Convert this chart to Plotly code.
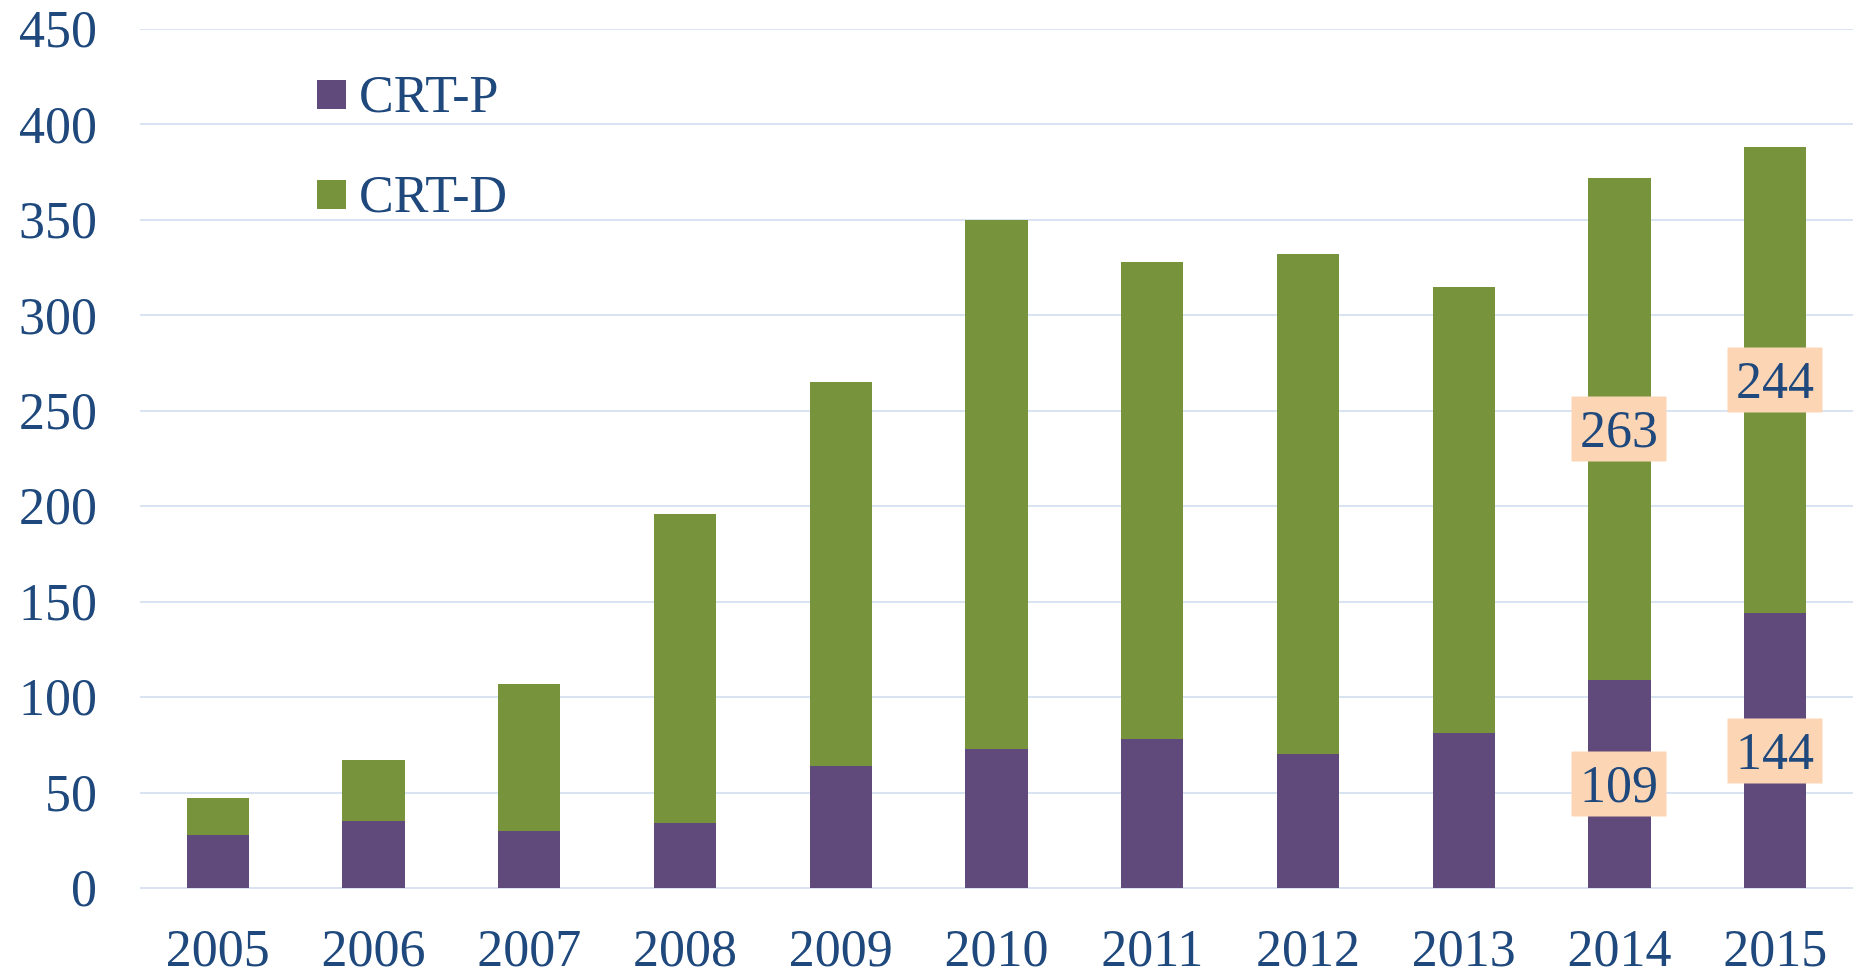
import plotly.graph_objects as go

years = ["2005", "2006", "2007", "2008", "2009", "2010", "2011", "2012", "2013", "2014", "2015"]
crt_p = [28, 35, 30, 34, 64, 73, 78, 70, 81, 109, 144]
crt_d = [19, 32, 77, 162, 201, 277, 250, 262, 234, 263, 244]
labeled_years = ["2014", "2015"]
series_names = ["CRT-P", "CRT-D"]
y_ticks = [0, 50, 100, 150, 200, 250, 300, 350, 400, 450]

C_P = "#604A7B"
C_D = "#77933C"
TXT = "#1F497D"
GRID = "#D9E3F1"
LBL_BG = "#FCD5B5"
FONT = "Liberation Serif"
FS = 52

# page body has an 8px margin: compensate so the plot lands where the reference has it
OFF = 8
W, H = 1863 - OFF, 971 - OFF
L, R, T, B = 140 - OFF, 10, 29 - OFF, 83

fig = go.Figure()
fig.add_trace(go.Bar(x=years, y=crt_p, name=series_names[0], marker=dict(color=C_P, line=dict(width=0)), showlegend=False))
fig.add_trace(go.Bar(x=years, y=crt_d, name=series_names[1], marker=dict(color=C_D, line=dict(width=0)), showlegend=False))

annotations = []
for i, (yr, p, d) in enumerate(zip(years, crt_p, crt_d)):
    if yr in labeled_years:
        for val, ymid in ((p, p / 2), (d, p + d / 2)):
            annotations.append(dict(
                x=i, y=ymid, xref="x", yref="y", text=str(val), showarrow=False,
                font=dict(family=FONT, size=FS, color=TXT), bgcolor=LBL_BG,
                width=94, height=64, align="center", valign="middle", borderpad=0,
            ))

# custom legend (page-pixel layout converted to paper coords)
pw, ph = W - L - R, H - T - B
def px(x):
    return (x - OFF - L) / pw
def py(y):
    return (H - B - (y - OFF)) / ph

shapes = [dict(type="line", xref="paper", yref="y", x0=0, x1=1, y0=y_ticks[-1], y1=y_ticks[-1],
               line=dict(color=GRID, width=2), layer="below")]
for name, col, cy in ((series_names[0], C_P, 94.5), (series_names[1], C_D, 194.5)):
    shapes.append(dict(type="rect", xref="paper", yref="paper",
                       x0=px(317), x1=px(346), y0=py(cy + 14.5), y1=py(cy - 14.5),
                       fillcolor=col, line=dict(width=0)))
    annotations.append(dict(x=px(357), y=py(cy), xref="paper", yref="paper", text=name,
                            showarrow=False, xanchor="left", yanchor="middle",
                            font=dict(family=FONT, size=FS, color=TXT)))

fig.update_layout(
    width=W, height=H,
    margin=dict(l=L, r=R, t=T, b=B, pad=0, autoexpand=False),
    barmode="stack", bargap=0.6,
    plot_bgcolor="white", paper_bgcolor="white",
    font=dict(family=FONT, size=FS, color=TXT),
    annotations=annotations, shapes=shapes,
    showlegend=False,
)
fig.update_xaxes(type="category", range=[-0.5, len(years) - 0.5], showgrid=False, showline=False, ticks="",
                 automargin=False, ticklabeloverflow="allow",
                 tickfont=dict(family=FONT, size=FS, color=TXT), ticklabelstandoff=25)
fig.update_yaxes(range=[0, 450], tickvals=y_ticks, showgrid=True, gridcolor=GRID, gridwidth=2,
                 zeroline=True, zerolinecolor=GRID, zerolinewidth=2, showline=False, ticks="",
                 automargin=False, ticklabeloverflow="allow",
                 tickfont=dict(family=FONT, size=FS, color=TXT), ticklabelstandoff=42)

fig.write_html("out.html")
